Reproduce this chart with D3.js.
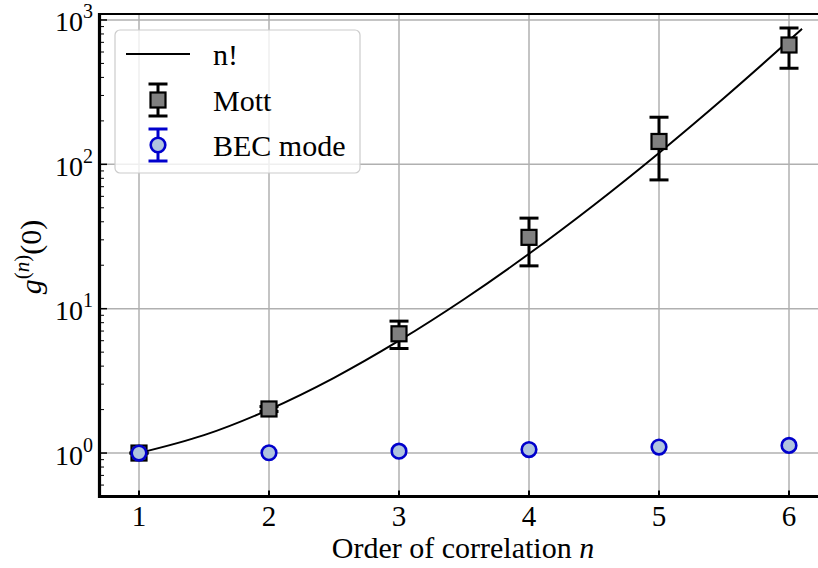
<!DOCTYPE html>
<html>
<head>
<meta charset="utf-8">
<script src="https://cdn.jsdelivr.net/npm/d3@7"></script>
<style>
  html, body { margin: 0; padding: 0; background: #fff; }
  svg { display: block; }
  svg text { font-family: "Liberation Serif", "Times New Roman", serif; }
</style>
</head>
<body>
<svg id="chart" width="818" height="568"></svg>
<script>
// Order of correlation n
const orders = [1, 2, 3, 4, 5, 6];

// Mott insulator: g^(n)(0) with lower / upper error bounds
const mottValues = [1.0, 2.02, 6.7, 31.2, 144, 671];
const mottLow    = [1.0, 1.94, 5.3, 19.8, 78, 463];
const mottHigh   = [1.0, 2.10, 8.2, 42.4, 212, 880];

// BEC mode: g^(n)(0) with lower / upper error bounds
const becValues = [1.0, 1.005, 1.03, 1.057, 1.10, 1.13];
const becLow    = [0.998, 1.0, 1.025, 1.052, 1.095, 1.125];
const becHigh   = [1.002, 1.01, 1.035, 1.062, 1.105, 1.135];

// n! reference curve (continuous factorial), sampled along n
const factN   = [1, 1.5, 2, 2.5, 3, 3.5, 4, 4.5, 5, 5.5, 6, 6.1];
const factVal = [1, 1.33, 2, 3.32, 6, 11.63, 24, 52.34, 120, 287.9, 720, 868];

// Axis ticks
const xTicks = [1, 2, 3, 4, 5, 6];
const yExponents = [0, 1, 2, 3];

const serif = "'Liberation Serif', 'Times New Roman', serif";
const svg = d3.select("#chart").attr("font-family", serif);

const plot = { left: 100, right: 828, top: 14, bottom: 496.5 };

const x = d3.scaleLinear().domain([0.7, 6.3]).range([plot.left, plot.right]);
const y = d3.scaleLog().domain([0.5, 1100]).range([plot.bottom, plot.top]);

const gridColor = "#b0b0b0";

// Grid lines
const grid = svg.append("g");
grid.selectAll("line.gx").data(xTicks).join("line")
  .attr("x1", d => x(d)).attr("x2", d => x(d))
  .attr("y1", plot.top).attr("y2", plot.bottom)
  .attr("stroke", gridColor).attr("stroke-width", 1.5);
grid.selectAll("line.gy").data(yExponents).join("line")
  .attr("x1", plot.left).attr("x2", plot.right)
  .attr("y1", d => y(Math.pow(10, d))).attr("y2", d => y(Math.pow(10, d)))
  .attr("stroke", gridColor).attr("stroke-width", 1.5);

// Minor ticks on the log axis (inside)
const minorVals = [];
for (let e = -1; e <= 3; e++) {
  for (let m = 2; m <= 9; m++) {
    const v = m * Math.pow(10, e);
    if (v >= 0.5 && v <= 1100) minorVals.push(v);
  }
}
svg.append("g").selectAll("line").data(minorVals).join("line")
  .attr("x1", plot.left).attr("x2", plot.left + 4)
  .attr("y1", d => y(d)).attr("y2", d => y(d))
  .attr("stroke", "#000").attr("stroke-width", 1);

// Major y ticks (inside)
svg.append("g").selectAll("line").data(yExponents).join("line")
  .attr("x1", plot.left).attr("x2", plot.left + 7)
  .attr("y1", d => y(Math.pow(10, d))).attr("y2", d => y(Math.pow(10, d)))
  .attr("stroke", "#000").attr("stroke-width", 1.5);

// Major x ticks (inside)
svg.append("g").selectAll("line").data(xTicks).join("line")
  .attr("x1", d => x(d)).attr("x2", d => x(d))
  .attr("y1", plot.bottom).attr("y2", plot.bottom - 6)
  .attr("stroke", "#000").attr("stroke-width", 2);

// n! curve
const line = d3.line()
  .x((d, i) => x(factN[i]))
  .y(d => y(d))
  .curve(d3.curveMonotoneX);
svg.append("path")
  .datum(factVal)
  .attr("d", line)
  .attr("fill", "none")
  .attr("stroke", "#000")
  .attr("stroke-width", 2);

// Error bar helper
function errorBars(g, lows, highs, color, capW, lw) {
  const eg = g.append("g");
  eg.selectAll("line.v").data(orders).join("line")
    .attr("x1", d => x(d)).attr("x2", d => x(d))
    .attr("y1", (d, i) => y(lows[i])).attr("y2", (d, i) => y(highs[i]))
    .attr("stroke", color).attr("stroke-width", lw);
  eg.selectAll("line.lo").data(orders).join("line")
    .attr("x1", d => x(d) - capW / 2).attr("x2", d => x(d) + capW / 2)
    .attr("y1", (d, i) => y(lows[i])).attr("y2", (d, i) => y(lows[i]))
    .attr("stroke", color).attr("stroke-width", lw);
  eg.selectAll("line.hi").data(orders).join("line")
    .attr("x1", d => x(d) - capW / 2).attr("x2", d => x(d) + capW / 2)
    .attr("y1", (d, i) => y(highs[i])).attr("y2", (d, i) => y(highs[i]))
    .attr("stroke", color).attr("stroke-width", lw);
}

// Mott series
const mott = svg.append("g");
errorBars(mott, mottLow, mottHigh, "#000", 19, 3);
const sq = 15;
mott.selectAll("rect").data(mottValues).join("rect")
  .attr("x", (d, i) => x(orders[i]) - sq / 2)
  .attr("y", d => y(d) - sq / 2)
  .attr("width", sq).attr("height", sq)
  .attr("fill", "#808080").attr("stroke", "#000").attr("stroke-width", 2.2);

// BEC mode series
const becColor = "#0000cc";
const becFill = "#b0c4de";
const bec = svg.append("g");
errorBars(bec, becLow, becHigh, becColor, 16, 3);
bec.selectAll("circle").data(becValues).join("circle")
  .attr("cx", (d, i) => x(orders[i]))
  .attr("cy", d => y(d))
  .attr("r", 7.3)
  .attr("fill", becFill).attr("stroke", becColor).attr("stroke-width", 2.6);

// Spines
svg.append("line")
  .attr("x1", plot.left - 1.5).attr("x2", 818)
  .attr("y1", plot.top).attr("y2", plot.top)
  .attr("stroke", "#000").attr("stroke-width", 2);
svg.append("line")
  .attr("x1", plot.left - 0.5).attr("x2", plot.left - 0.5)
  .attr("y1", plot.top - 1).attr("y2", plot.bottom + 1.5)
  .attr("stroke", "#000").attr("stroke-width", 3.2);
svg.append("line")
  .attr("x1", plot.left - 2).attr("x2", 818)
  .attr("y1", plot.bottom).attr("y2", plot.bottom)
  .attr("stroke", "#000").attr("stroke-width", 3.2);

// X tick labels
svg.append("g").selectAll("text").data(xTicks).join("text")
  .attr("x", d => x(d)).attr("y", 526)
  .attr("text-anchor", "middle")
  .attr("font-size", 29)
  .attr("fill", "#000")
  .text(d => d);

// Y tick labels: 10^k
const yl = svg.append("g").selectAll("text").data(yExponents).join("text")
  .attr("x", 93)
  .attr("y", d => y(Math.pow(10, d)) + 11.5)
  .attr("text-anchor", "end")
  .attr("fill", "#000");
yl.append("tspan").attr("font-size", 28).text("10");
yl.append("tspan").attr("font-size", 20).attr("dy", -13).text(d => d);

// X axis label
const xl = svg.append("text")
  .attr("x", 463).attr("y", 558)
  .attr("text-anchor", "middle")
  .attr("font-size", 30)
  .attr("fill", "#000");
xl.append("tspan").text("Order of correlation ");
xl.append("tspan").attr("font-style", "italic").text("n");

// Y axis label: g^(n)(0)
const ylab = svg.append("text")
  .attr("transform", "translate(41,257) rotate(-90)")
  .attr("text-anchor", "middle")
  .attr("font-size", 30)
  .attr("fill", "#000");
ylab.append("tspan").attr("font-style", "italic").text("g");
ylab.append("tspan").attr("font-size", 21).attr("dy", -12).text("(");
ylab.append("tspan").attr("font-size", 21).attr("font-style", "italic").text("n");
ylab.append("tspan").attr("font-size", 21).text(")");
ylab.append("tspan").attr("dy", 12).text("(0)");

// Legend
const legend = svg.append("g");
legend.append("rect")
  .attr("x", 115).attr("y", 30).attr("width", 245).attr("height", 143)
  .attr("rx", 5).attr("ry", 5)
  .attr("fill", "#fff").attr("fill-opacity", 0.8)
  .attr("stroke", "#cccccc").attr("stroke-width", 1.2);

const legendNames = ["n!", "Mott", "BEC mode"];
const rowY = [54, 100, 145];
const mkX = 158;

legend.append("line")
  .attr("x1", 126).attr("x2", 190)
  .attr("y1", rowY[0]).attr("y2", rowY[0])
  .attr("stroke", "#000").attr("stroke-width", 2);

function legendErr(cy, color) {
  legend.append("line").attr("x1", mkX).attr("x2", mkX)
    .attr("y1", cy - 16).attr("y2", cy + 16)
    .attr("stroke", color).attr("stroke-width", 3);
  [cy - 16, cy + 16].forEach(yy => {
    legend.append("line").attr("x1", mkX - 9.5).attr("x2", mkX + 9.5)
      .attr("y1", yy).attr("y2", yy)
      .attr("stroke", color).attr("stroke-width", 3);
  });
}
legendErr(rowY[1], "#000");
legend.append("rect")
  .attr("x", mkX - sq / 2).attr("y", rowY[1] - sq / 2)
  .attr("width", sq).attr("height", sq)
  .attr("fill", "#808080").attr("stroke", "#000").attr("stroke-width", 2.2);

legendErr(rowY[2], becColor);
legend.append("circle")
  .attr("cx", mkX).attr("cy", rowY[2]).attr("r", 7.3)
  .attr("fill", becFill).attr("stroke", becColor).attr("stroke-width", 2.6);

legend.selectAll("text").data(legendNames).join("text")
  .attr("x", 213)
  .attr("y", (d, i) => rowY[i] + 10.5)
  .attr("font-size", 30)
  .attr("fill", "#000")
  .text(d => d);
</script>
</body>
</html>
